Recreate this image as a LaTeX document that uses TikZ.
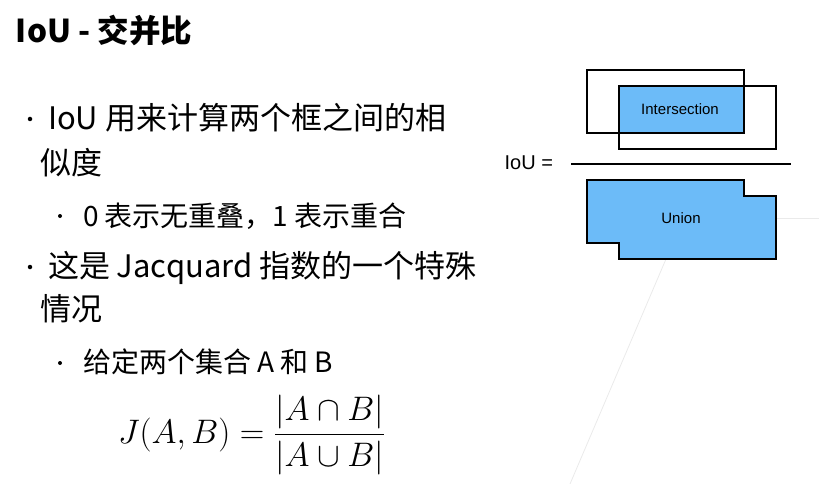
\RequirePackage{fix-cm}
\documentclass[tikz,border=0pt]{standalone}
\usepackage{fontspec}
\setmainfont{Noto Sans CJK SC}
\newfontfamily\arialfont{Liberation Sans}
\definecolor{boxblue}{HTML}{6CBBF8}
\definecolor{faintgray}{HTML}{EAEAEA}

\begin{document}
\begin{tikzpicture}[x=1pt, y=-1pt]
  \tikzset{
    every node/.style={inner sep=0pt, outer sep=0pt},
    titletext/.style={anchor=base west, font=\bfseries\fontsize{31.5}{38}\selectfont},
    bodytext/.style={anchor=base west, font=\fontsize{31}{37}\selectfont},
    subtext/.style={anchor=base west, font=\fontsize{28}{34}\selectfont},
    bulletdot/.style={circle, fill=black, minimum size=4.5pt},
    subdot/.style={circle, fill=black, minimum size=4pt},
    boxline/.style={draw=black, line width=1.5pt},
    boxlabel/.style={font=\arialfont\fontsize{15}{18}\selectfont}
  }
  \useasboundingbox (0,0) rectangle (819,484);
  \draw[faintgray, line width=0.8pt] (570,484) -- (666,259);
  \draw[faintgray, line width=0.8pt] (777,218) -- (819,218);

  \node[titletext] (title) at (16,43) {IoU - 交并比};

  \node[bulletdot] (dotA) at (30,119) {};
  \node[bodytext] (lineA) at (48,130) {IoU 用来计算两个框之间的相};
  \node[bodytext] (lineAb) at (40,175) {似度};
  \node[subdot] (dotAa) at (60,216) {};
  \node[subtext] (subA) at (83,226) {0 表示无重叠，1 表示重合};

  \node[bulletdot] (dotB) at (30,267) {};
  \node[bodytext] (lineB) at (48,277) {这是 Jacquard 指数的一个特殊};
  \node[bodytext] (lineBb) at (40,320) {情况};
  \node[subdot] (dotBa) at (60,363) {};
  \node[subtext] (subB) at (83,372) {给定两个集合 A 和 B};
  \node[anchor=base west, font=\fontsize{34}{40}\selectfont] (jaccard) at (118,443)
    {$\displaystyle J(A,B)=\frac{|A\cap B|}{|A\cup B|}$};

  \fill[boxblue] (619,86) rectangle (744,133);
  \draw[boxline] (587,70) rectangle (744,133);
  \draw[boxline] (619,86) rectangle (776,149);
  \node[boxlabel] (isect) at (680,109) {Intersection};

  \node[boxlabel, font=\arialfont\fontsize{20}{24}\selectfont, anchor=east] (iou) at (553,163) {IoU =};
  \coordinate (barL) at (571,164);
  \coordinate (barR) at (791,164);
  \draw[line width=1.5pt] (barL) -- (barR);

  \filldraw[boxline, fill=boxblue] (587,180) -- (744,180) -- (744,196) -- (776,196)
    -- (776,259) -- (619,259) -- (619,243) -- (587,243) -- cycle;
  \node[boxlabel] (union) at (681,218) {Union};
\end{tikzpicture}
\end{document}
